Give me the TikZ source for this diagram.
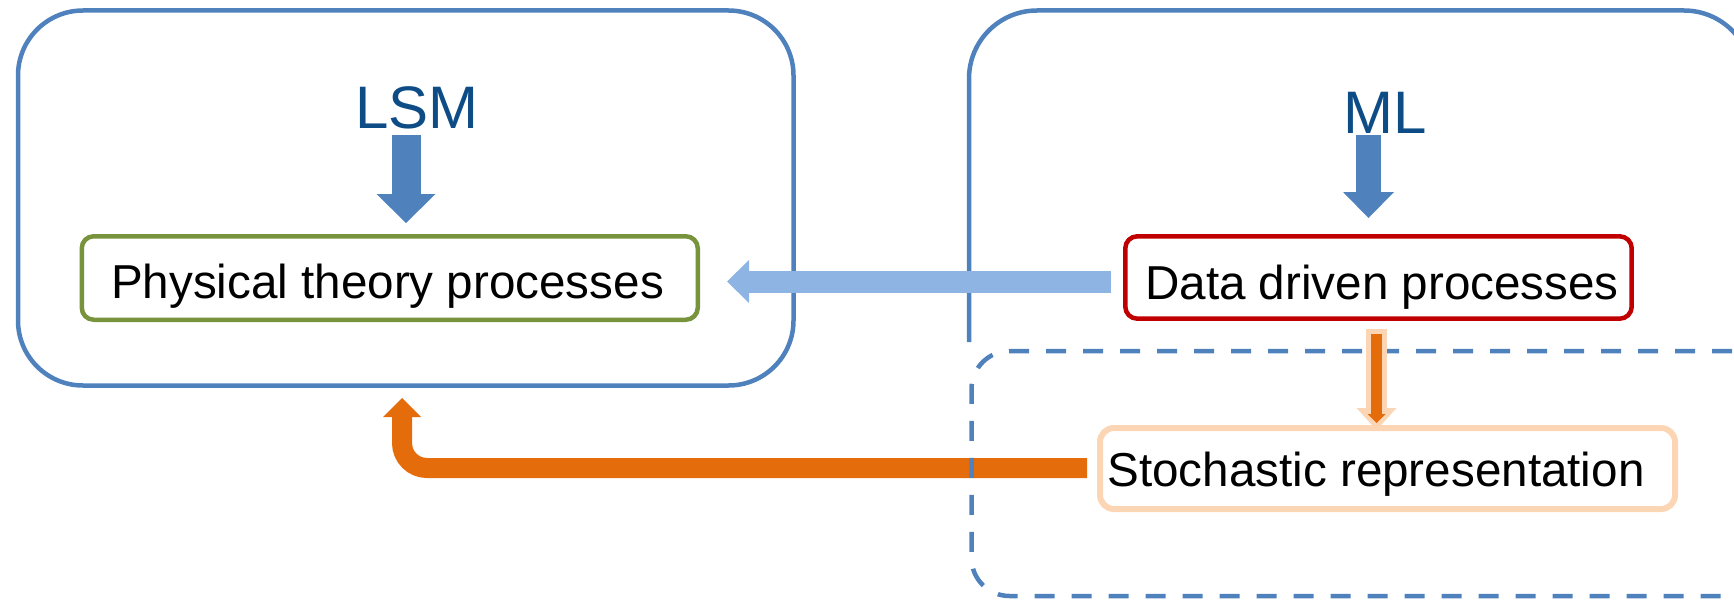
\documentclass[tikz,border=0pt]{standalone}
\usepackage{fontspec}
\setmainfont{Liberation Sans}
\usetikzlibrary{arrows.meta}
\definecolor{obl}{HTML}{4F81BD}
\definecolor{titleblue}{HTML}{0E4C86}
\definecolor{lblue}{HTML}{8EB4E3}
\definecolor{oorange}{HTML}{E46C0A}
\definecolor{peach}{HTML}{FCD5B5}
\definecolor{ogreen}{HTML}{77933C}
\definecolor{ored}{HTML}{C00000}
\tikzset{
  frame/.style={draw=obl, line width=4.5pt, rounded corners=65pt, inner sep=0pt},
  dashedframe/.style={draw=obl, line width=4.5pt, rounded corners=38pt, inner sep=0pt, dash pattern=on 20pt off 17pt},
  procbox/.style={line width=4.5pt, rounded corners=12pt, inner sep=0pt},
  txt/.style={inner sep=0pt, anchor=base, font=\fontsize{47.6}{57}\selectfont},
  titletxt/.style={inner sep=0pt, anchor=base, text=titleblue, font=\fontsize{60}{70}\selectfont},
}
\begin{document}
\begin{tikzpicture}[x=1pt,y=-1pt]
\useasboundingbox (0,0) rectangle (1734,602);

% outer frames
\node[frame, minimum width=775.5pt, minimum height=375pt] (lsmbox) at (405.75,198) {};
\draw[draw=obl, line width=4.5pt, rounded corners=68pt] (969,342) -- (969,10.5) -- (1752,10.5) -- (1752,342);

% process boxes
\node[procbox, draw=ogreen, minimum width=616pt, minimum height=83.5pt] (phys) at (389.75,278) {};
\node[procbox, draw=ored, minimum width=506.4pt, minimum height=82.4pt] (data) at (1378.5,277.5) {};

% titles
\node[titletxt] (lsm) at (417,128.5) {LSM};
\node[titletxt] (ml) at (1385,133) {ML};

% title arrows
\coordinate (la1) at (406,135);
\coordinate (la2) at (406,223);
\coordinate (ma1) at (1368.5,135);
\coordinate (ma2) at (1368.5,218);
\draw[obl, line width=29pt, -{Triangle[width=59pt,length=29pt,line width=0pt]}] (la1) -- (la2);
\draw[obl, line width=25pt, -{Triangle[width=51pt,length=26pt,line width=0pt]}] (ma1) -- (ma2);

% light blue arrow
\coordinate (lbstart) at (1110.5,281.5);
\coordinate (lbtip) at (727,281.5);
\draw[lblue, line width=22pt, -{Triangle[width=43pt,length=22pt,line width=0pt]}] (lbstart) -- (lbtip);

% orange feedback arrow
\coordinate (ostart) at (1087,468);
\coordinate (otip) at (402,398);
\draw[oorange, line width=20pt, rounded corners=25pt, -{Triangle[width=38pt,length=19pt,line width=0pt]}] (ostart) -| (otip);

% dashed frame
\node[dashedframe, minimum width=798.5pt, minimum height=245pt] (stochframe) at (1370.75,473.5) {};

% stochastic box
\node[procbox, draw=peach, line width=6pt, rounded corners=14pt, minimum width=575pt, minimum height=81pt] (stoch) at (1387.5,468.5) {};

% orange down arrow
\coordinate (od1) at (1376.5,329);
\coordinate (od2) at (1376.5,430);
\coordinate (oi1) at (1376.5,334);
\coordinate (oi2) at (1376.5,423);
\draw[peach, line width=21pt, -{Triangle[width=40pt,length=22pt,line width=0pt]}] (od1) -- (od2);
\draw[oorange, line width=11pt, -{Triangle[width=18pt,length=9pt,line width=0pt]}] (oi1) -- (oi2);

% texts
\node[txt] (phystext) at (387.5,298) {Physical theory processes};
\node[txt] (datatext) at (1382,299) {Data driven processes};
\node[txt] (stochtext) at (1376,486) {Stochastic representation};
\end{tikzpicture}
\end{document}
